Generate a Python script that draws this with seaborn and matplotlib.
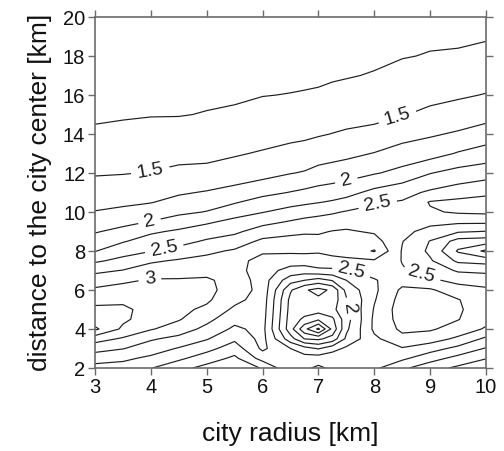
#!/usr/bin/env python3
# -*- coding: utf-8 -*-
"""
Contour map: value vs. city radius and distance to the city center
"""

import numpy as np
import matplotlib
matplotlib.use("Agg")
import matplotlib.pyplot as plt
import seaborn as sns

# grid
city_radius = [3, 3.5, 4, 4.5, 5, 5.5, 6, 6.5, 6.75, 7, 7.25, 7.5, 8, 8.5, 9, 9.5, 10]
distance = [2, 2.5, 3, 3.5, 4, 4.5, 5, 5.5, 6, 6.5, 7, 7.5, 8, 8.5, 9, 9.5, 10,
            10.5, 11, 12, 13, 14, 15, 16, 17, 18, 19, 20]

# one row per distance value, one column per city radius
values = [
    [2.42, 2.40, 2.26, 2.08, 1.92, 1.82, 2.02, 2.45, 2.30, 2.20, 2.30, 2.45, 2.30, 2.05, 1.85, 1.70, 1.60],
    [2.60, 2.55, 2.45, 2.30, 2.12, 1.95, 2.35, 2.40, 2.35, 2.38, 2.42, 2.48, 2.46, 2.30, 2.10, 1.92, 1.76],
    [2.85, 2.76, 2.62, 2.48, 2.33, 2.12, 2.55, 2.25, 2.10, 1.98, 2.15, 2.30, 2.42, 2.48, 2.35, 2.18, 1.98],
    [3.10, 2.97, 2.78, 2.68, 2.52, 2.30, 2.58, 1.85, 1.49, 1.45, 1.60, 2.05, 2.45, 2.68, 2.62, 2.45, 2.20],
    [3.55, 3.20, 3.02, 2.88, 2.68, 2.45, 2.58, 1.60, 1.07, 0.70, 1.32, 1.95, 2.55, 2.80, 2.78, 2.65, 2.47],
    [3.35, 3.30, 3.12, 3.02, 2.82, 2.58, 2.60, 1.63, 1.45, 1.29, 1.45, 1.90, 2.55, 2.85, 2.84, 2.76, 2.58],
    [3.32, 3.30, 3.16, 3.06, 2.95, 2.70, 2.62, 1.66, 1.62, 1.62, 1.68, 1.95, 2.52, 2.88, 2.86, 2.78, 2.62],
    [3.15, 3.20, 3.15, 3.07, 3.04, 2.82, 2.64, 1.68, 1.55, 1.55, 1.60, 1.97, 2.48, 2.85, 2.84, 2.76, 2.62],
    [3.04, 3.08, 3.10, 3.06, 3.06, 2.90, 2.66, 1.78, 1.53, 1.42, 1.55, 2.08, 2.45, 2.80, 2.78, 2.62, 2.55],
    [2.88, 2.96, 3.02, 3.02, 3.03, 2.92, 2.62, 2.10, 2.00, 1.90, 2.02, 2.25, 2.48, 2.65, 2.55, 2.42, 2.37],
    [2.69, 2.76, 2.88, 2.90, 2.93, 2.86, 2.60, 2.42, 2.38, 2.45, 2.45, 2.48, 2.60, 2.52, 2.40, 2.22, 2.20],
    [2.46, 2.57, 2.71, 2.78, 2.82, 2.82, 2.68, 2.60, 2.62, 2.64, 2.68, 2.70, 2.72, 2.49, 2.28, 1.95, 1.90],
    [2.24, 2.40, 2.49, 2.58, 2.70, 2.78, 2.78, 2.80, 2.80, 2.78, 2.82, 2.85, 3.02, 2.48, 2.20, 1.72, 1.45],
    [2.11, 2.23, 2.36, 2.42, 2.53, 2.62, 2.80, 2.82, 2.83, 2.82, 2.86, 2.88, 2.85, 2.51, 2.24, 1.90, 1.87],
    [1.98, 2.07, 2.21, 2.29, 2.38, 2.45, 2.62, 2.70, 2.72, 2.72, 2.76, 2.78, 2.72, 2.58, 2.40, 2.28, 2.24],
    [1.86, 1.93, 2.01, 2.11, 2.21, 2.32, 2.42, 2.52, 2.56, 2.58, 2.62, 2.65, 2.66, 2.64, 2.58, 2.55, 2.55],
    [1.76, 1.80, 1.87, 1.95, 2.01, 2.14, 2.24, 2.34, 2.40, 2.44, 2.47, 2.52, 2.55, 2.62, 2.72, 2.78, 2.80],
    [1.68, 1.71, 1.74, 1.83, 1.90, 1.98, 2.10, 2.17, 2.20, 2.24, 2.28, 2.33, 2.48, 2.52, 2.77, 2.82, 2.84],
    [1.61, 1.63, 1.66, 1.72, 1.77, 1.84, 1.93, 2.01, 2.05, 2.09, 2.12, 2.17, 2.32, 2.42, 2.54, 2.62, 2.70],
    [1.48, 1.49, 1.51, 1.55, 1.54, 1.60, 1.66, 1.74, 1.77, 1.83, 1.86, 1.89, 1.98, 2.07, 2.24, 2.34, 2.39],
    [1.38, 1.40, 1.41, 1.43, 1.46, 1.48, 1.52, 1.57, 1.58, 1.63, 1.66, 1.69, 1.76, 1.86, 1.90, 2.02, 2.11],
    [1.29, 1.30, 1.32, 1.34, 1.35, 1.38, 1.41, 1.44, 1.46, 1.48, 1.505, 1.53, 1.56, 1.65, 1.72, 1.78, 1.86],
    [1.21, 1.23, 1.24, 1.24, 1.26, 1.28, 1.31, 1.34, 1.35, 1.37, 1.39, 1.41, 1.44, 1.49, 1.54, 1.60, 1.66],
    [1.16, 1.18, 1.19, 1.20, 1.21, 1.22, 1.245, 1.255, 1.26, 1.27, 1.29, 1.30, 1.35, 1.40, 1.45, 1.47, 1.51],
    [1.12, 1.13, 1.15, 1.16, 1.17, 1.18, 1.20, 1.21, 1.22, 1.22, 1.23, 1.24, 1.26, 1.31, 1.37, 1.37, 1.40],
    [1.09, 1.10, 1.11, 1.12, 1.13, 1.15, 1.16, 1.17, 1.18, 1.19, 1.21, 1.22, 1.22, 1.24, 1.26, 1.27, 1.31],
    [1.07, 1.08, 1.09, 1.10, 1.11, 1.12, 1.13, 1.14, 1.15, 1.16, 1.18, 1.19, 1.19, 1.20, 1.22, 1.22, 1.23],
    [1.05, 1.06, 1.07, 1.08, 1.09, 1.10, 1.11, 1.12, 1.13, 1.14, 1.15, 1.16, 1.17, 1.18, 1.19, 1.21, 1.18],
]

plain_levels = [0.75, 1.0, 1.25, 1.75, 2.25, 2.75, 3.25, 3.5]
labeled_levels = [1.5, 2.0, 2.5, 3.0]
# where the inline labels sit (data coords)
label_spots = [(4.0, 11.9), (8.4, 15.0),
               (3.98, 9.45), (7.5, 11.6), (7.55, 5.05),
               (4.25, 7.95), (8.05, 10.55), (7.6, 7.05), (8.85, 6.8),
               (3.98, 6.6)]

x_ticks = [3, 4, 5, 6, 7, 8, 9, 10]
y_ticks = [2, 4, 6, 8, 10, 12, 14, 16, 18, 20]

sns.set_theme(style="ticks")
plt.rcParams['font.family'] = ['Liberation Sans', 'DejaVu Sans']
plt.rcParams['axes.unicode_minus'] = False

AXIS_GRAY = '#6b6b6b'
LINE_COLOR = '#1e1e1e'


def main():
    fig = plt.figure(figsize=(5.04, 4.51), dpi=100)
    ax = fig.add_axes([0.1885, 0.184, 0.7758, 0.7783])

    z = np.array(values)
    # unlabeled levels and labeled levels as two sets, so the labels only
    # snap onto the 1.5 / 2 / 2.5 / 3 lines
    ax.contour(city_radius, distance, z, levels=plain_levels,
               colors=LINE_COLOR, linewidths=0.85)
    cs = ax.contour(city_radius, distance, z, levels=labeled_levels,
                    colors=LINE_COLOR, linewidths=0.85)
    ax.clabel(cs, manual=label_spots, inline=True, inline_spacing=6,
              fontsize=14, colors=LINE_COLOR, fmt=lambda v: f'{v:g}')

    ax.set_xlim(3, 10)
    ax.set_ylim(2, 20)
    ax.set_xticks(x_ticks)
    ax.set_yticks(y_ticks)
    ax.tick_params(axis='both', which='major', direction='out', length=5,
                   width=1.0, color=AXIS_GRAY, labelsize=14.5, pad=2,
                   top=True, right=True, labeltop=False, labelright=False,
                   labelcolor='#111111')
    for side in ax.spines.values():
        side.set_visible(True)
        side.set_color(AXIS_GRAY)
        side.set_linewidth(1.2)

    ax.set_xlabel('city radius [km]', fontsize=19, labelpad=18, color='#111111')
    ax.set_ylabel('distance to the city center [km]', fontsize=19, labelpad=8,
                  color='#111111')

    fig.savefig('out.png', dpi=100)


if __name__ == "__main__":
    main()
